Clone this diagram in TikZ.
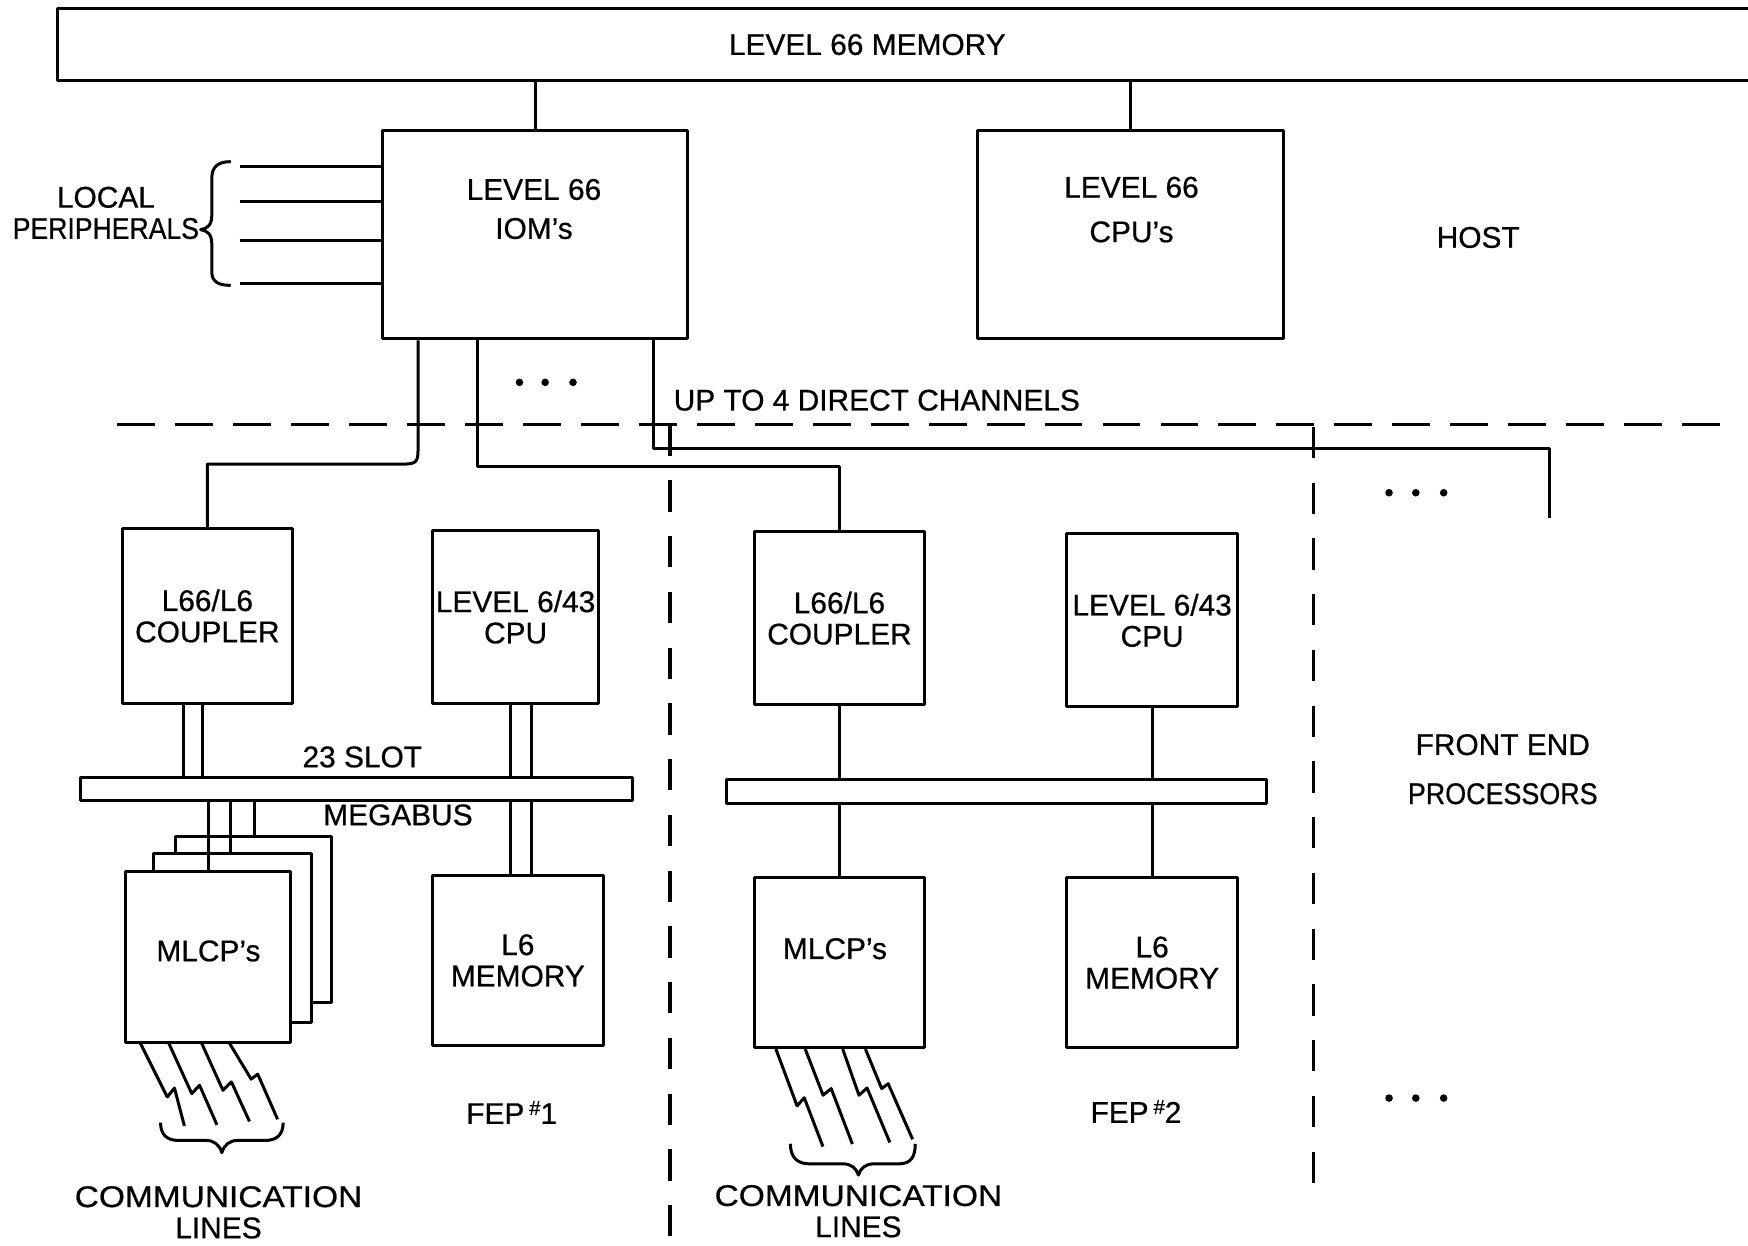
\documentclass[tikz,border=0pt]{standalone}
\usepackage{fontspec}
\setmainfont{Liberation Sans}[FakeBold=0.6]
\usetikzlibrary{calc}
\newcommand\dfont{\fontsize{13.4}{14}\selectfont}
\newcommand\hsh{\raisebox{4pt}{\fontsize{9}{9}\selectfont\#}}
\begin{document}
\begin{tikzpicture}[x=0.5pt,y=-0.5pt,line width=1.35pt,line join=round,
  box/.style={draw, fill=white, rectangle, inner sep=0pt, align=center, font=\dfont},
  txt/.style={inner sep=0pt, align=center, font=\dfont},
  hdash/.style={dash pattern=on 17pt off 9pt},
  vdash/.style={dash pattern=on 14pt off 11pt},
  dotc/.style={fill=black}]
\useasboundingbox (0,0) rectangle (1568,1117);

% ---------- host memory (open at right) ----------
\draw (1568,8) -- (52,8) -- (52,72) -- (1568,72);
\node[txt] (mem) at (778,40) {LEVEL 66 MEMORY};
\coordinate (membot) at (52,72);

% ---------- host ----------
\node[box, minimum width=137pt, minimum height=93.5pt] (iom) at (480,210.5) {};
\node[txt] (iomt) at (479,187.5) {LEVEL 66\\[3.5pt]IOM's};
\node[box, minimum width=137pt, minimum height=93.5pt] (cpu) at (1014,210.5) {};
\node[txt] (cput) at (1015,188) {LEVEL 66\\[6pt]CPU's};
\node[txt] (host) at (1326,213) {HOST};
\draw (iom.north) -- (iom.north |- membot);
\draw (cpu.north) -- (cpu.north |- membot);

% ---------- local peripherals ----------
\node[txt] (lp) at (95,191) {LOCAL\\\scalebox{0.89}[1]{PERIPHERALS}};
\foreach \y in {149,181,216,254}{
  \coordinate (p\y) at (215,\y);
  \draw (p\y) -- (p\y -| iom.west);
}
\draw (207,145) .. controls (195,145) and (190,150) .. (190,160) -- (190,193)
  .. controls (190,202) and (186,205) .. (180,206)
  .. controls (186,207) and (190,210) .. (190,219) -- (190,244)
  .. controls (190,252) and (195,256) .. (207,256);

% ---------- dots ----------
\foreach \x in {466,489,514} \fill[dotc] (\x,343) circle (1.7pt);
\foreach \x in {1246,1270,1295} \fill[dotc] (\x,442) circle (1.7pt);
\foreach \x in {1246,1270,1295} \fill[dotc] (\x,985) circle (1.7pt);

% ---------- boundaries ----------
\node[txt, anchor=west] (up) at (603,359) {UP TO 4 DIRECT CHANNELS};
\draw[hdash] (105,381) -- (1548,381);
\draw[vdash] (601,381) -- (601,1117);
\draw[vdash] (1178,383) -- (1178,1065);

% ---------- FEP #1 ----------
\node[box, minimum width=76pt, minimum height=78.5pt] (cp1) at (186,552.5) {L66/L6\\COUPLER};
\node[box, minimum width=74.5pt, minimum height=77.5pt] (cpu1) at (462.5,553.5) {LEVEL 6/43\\CPU};
\node[box, minimum width=247.5pt, minimum height=10.5pt] (mb1) at (319.5,707.5) {};
\node[txt] (slot) at (325,679) {23 SLOT};
\node[txt] (megabus) at (357,731) {MEGABUS};
\node[box, minimum width=76.5pt, minimum height=76.5pt] (mem1) at (464.5,861.5) {L6\\MEMORY};
\node[box, minimum width=70pt, minimum height=74.5pt] (ml1c) at (227,824.5) {};
\node[box, minimum width=70.5pt, minimum height=75.5pt] (ml1b) at (208.5,841.5) {};
\node[box, minimum width=74pt, minimum height=76.5pt] (ml1) at (187,858.5) {};
\node[txt] (ml1t) at (187,853) {MLCP's};
\node[txt] (fep1) at (459,998) {FEP\,\hsh1};

\foreach \x in {165,182}{
  \coordinate (dd) at (\x,0);
  \draw (dd |- cp1.south) -- (dd |- mb1.north);
}
\foreach \x in {458,477}{
  \coordinate (dd) at (\x,0);
  \draw (dd |- cpu1.south) -- (dd |- mb1.north);
  \draw (dd |- mb1.south) -- (dd |- mem1.north);
}
\coordinate (m1) at (187,0);
\coordinate (m2) at (207,0);
\coordinate (m3) at (228,0);
\draw (m1 |- mb1.south) -- (m1 |- ml1.north);
\draw (m2 |- mb1.south) -- (m2 |- ml1b.north);
\draw (m3 |- mb1.south) -- (m3 |- ml1c.north);

% communication lines (left)
\draw (126,936) -- (150,984) -- (156.5,976) -- (165.4,1010);
\draw (151.5,936) -- (172,981) -- (179,973.5) -- (194.6,1009);
\draw (181,936) -- (200,978) -- (207.6,970.5) -- (223.8,1006);
\draw (206,936) -- (225.3,968) -- (231.2,963.5) -- (249,1004);
\draw (144,1007) .. controls (144,1018) and (150,1023) .. (160,1023) -- (185,1023)
  .. controls (192,1023) and (197,1027) .. (199,1034)
  .. controls (201,1027) and (206,1023) .. (213,1023) -- (238,1023)
  .. controls (248,1023) and (254,1018) .. (254,1007);
\node[txt] (cl1) at (196,1087.5) {\scalebox{1.12}[1]{COMMUNICATION}\\LINES};

% ---------- FEP #2 ----------
\node[box, minimum width=76pt, minimum height=77.5pt] (cp2) at (753,554.5) {L66/L6\\COUPLER};
\node[box, minimum width=76.5pt, minimum height=77.5pt] (cpu2) at (1033.5,556.5) {LEVEL 6/43\\CPU};
\node[box, minimum width=242pt, minimum height=11pt] (mb2) at (894,710) {};
\node[box, minimum width=76pt, minimum height=76.5pt] (ml2) at (753,863.5) {};
\node[txt] (ml2t) at (749,851) {MLCP's};
\node[box, minimum width=76.5pt, minimum height=76.5pt] (mem2) at (1033.5,863.5) {L6\\MEMORY};
\node[txt] (fep2) at (1019,997) {FEP\,\hsh2};
\draw (cp2.south) -- (cp2.south |- mb2.north);
\draw (cpu2.south) -- (cpu2.south |- mb2.north);
\draw (ml2.north |- mb2.south) -- (ml2.north);
\draw (mem2.north |- mb2.south) -- (mem2.north);

% communication lines (right)
\draw (696,941) -- (715,992) -- (721.4,984.7) -- (738.2,1028.5);
\draw (722.3,941) -- (738.3,982.4) -- (745.6,976.5) -- (764.6,1026.2);
\draw (755.9,941) -- (770.5,982.4) -- (777.8,976) -- (798.2,1024.8);
\draw (776.3,941) -- (790.9,976.5) -- (796.7,972.1) -- (818.6,1021.9);
\draw (709,1026) .. controls (709,1038) and (715,1044) .. (726,1044) -- (756,1044)
  .. controls (764,1044) and (768,1048) .. (770,1054)
  .. controls (772,1048) and (776,1044) .. (784,1044) -- (806,1044)
  .. controls (817,1044) and (821,1038) .. (821,1026);
\node[txt] (cl2) at (770,1086.5) {\scalebox{1.12}[1]{COMMUNICATION}\\LINES};

\node[txt] (fe) at (1348,690) {FRONT END\\[8pt]\scalebox{0.9}[1]{PROCESSORS}};

% ---------- direct channels from IOM ----------
\coordinate (a1) at ([xshift=-52.5pt]iom.south);
\coordinate (a2) at ([xshift=-26pt]iom.south);
\coordinate (a3) at ([xshift=53pt]iom.south);
\coordinate (ch4) at (1390,465);
\draw (a1) -- ++(0,94) .. controls +(0,15) and +(15,0) .. ++(-15,17) -| (cp1.north);
\draw (a2) -- ++(0,113) -| (cp2.north);
\draw (a3) -- ++(0,97) -| (ch4);
\end{tikzpicture}
\end{document}
